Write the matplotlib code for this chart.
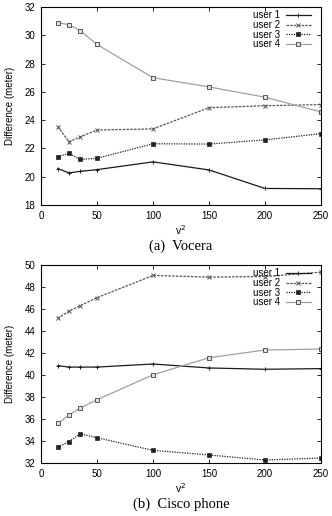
import matplotlib
matplotlib.use("Agg")
import matplotlib.pyplot as plt

x = [15, 25, 35, 50, 100, 150, 200, 250]

# (a) Vocera
voc_user1 = [20.58, 20.27, 20.38, 20.5, 21.05, 20.48, 19.17, 19.15]
voc_user2 = [23.55, 22.47, 22.82, 23.3, 23.38, 24.88, 25.02, 25.1]
voc_user3 = [21.42, 21.65, 21.22, 21.3, 22.33, 22.31, 22.6, 23.05]
voc_user4 = [30.89, 30.75, 30.33, 29.35, 27.0, 26.35, 25.62, 24.58]

# (b) Cisco phone
cis_user1 = [40.85, 40.72, 40.72, 40.72, 41.0, 40.64, 40.52, 40.58]
cis_user2 = [45.15, 45.8, 46.3, 47.03, 49.05, 48.9, 48.95, 49.35]
cis_user3 = [33.45, 33.94, 34.66, 34.3, 33.15, 32.73, 32.27, 32.45]
cis_user4 = [35.6, 36.36, 37.0, 37.75, 40.02, 41.57, 42.27, 42.36]

labels = ["user 1", "user 2", "user 3", "user 4"]

plt.rcParams['font.family'] = ['Liberation Sans', 'DejaVu Sans']

fig = plt.figure(figsize=(3.32, 5.16), dpi=100)
ax1 = fig.add_axes([41/332, 1-205/516, 280/332, 198/516])
ax2 = fig.add_axes([41/332, 1-463/516, 280/332, 198/516])

styles = [
    dict(color='#1a1a1a', linestyle='-', linewidth=0.9, marker='+', markersize=3, markeredgewidth=0.7),
    dict(color='#555555', linestyle=(0, (2, 1)), linewidth=0.9, marker='x', markersize=2.5, markeredgewidth=0.7),
    dict(color='#222222', linestyle=(0, (1, 1)), linewidth=0.9, marker='s', markersize=2.2, markeredgewidth=0.5),
    dict(color='#a0a0a0', linestyle='-', linewidth=0.9, marker='s', markersize=3.2, markerfacecolor='#e0e0e0',
         markeredgecolor='#555555', markeredgewidth=0.7),
]

def draw(ax, series, ylim, yticks, caption):
    for s, lab, st in zip(series, labels, styles):
        ax.plot(x, s, label=lab, **st)
    ax.set_xlim(0, 250)
    ax.set_ylim(*ylim)
    ax.set_xticks([0, 50, 100, 150, 200, 250])
    ax.set_yticks(yticks)
    ax.tick_params(direction='in', top=True, right=True, labelsize=7, length=3, width=0.6, pad=4)
    for sp in ax.spines.values():
        sp.set_linewidth(0.8)
    ax.set_ylabel('Difference (meter)', fontsize=7, labelpad=7)
    ax.set_xlabel('v$^2$', fontsize=7.5, labelpad=2)
    ax.legend(loc='upper right', frameon=False, fontsize=7, markerfirst=False,
              handlelength=2.6, handleheight=0.5, handletextpad=0.6, labelspacing=-0.02,
              borderaxespad=0.0, borderpad=0.3, bbox_to_anchor=(0.975, 1.0))
    ax.text(0.5, -0.207, caption, transform=ax.transAxes, ha='center', va='center',
            fontsize=10.5, family='Liberation Serif')

draw(ax1, [voc_user1, voc_user2, voc_user3, voc_user4], (18, 32), range(18, 33, 2), '(a)  Vocera')
draw(ax2, [cis_user1, cis_user2, cis_user3, cis_user4], (32, 50), range(32, 51, 2), '(b)  Cisco phone')

fig.savefig('out.png', dpi=100)
